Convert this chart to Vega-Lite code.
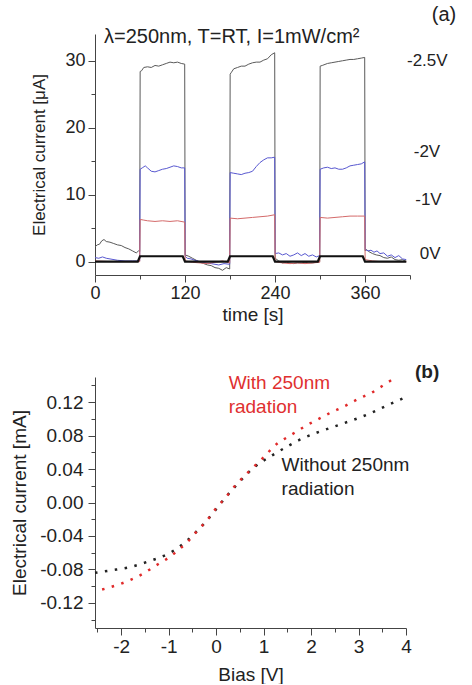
{
  "$schema": "https://vega.github.io/schema/vega-lite/v6.json",
  "padding": {"left": 10, "top": 5, "right": 0, "bottom": 0},
  "spacing": 38,
  "resolve": {"scale": {"color": "independent"}},
  "config": {
    "font": "Liberation Sans",
    "view": {"stroke": null},
    "axis": {
      "domainColor": "#444", "tickColor": "#444", "labelColor": "#222", "titleColor": "#222",
      "titleFontWeight": "normal", "grid": false, "labelFont": "Liberation Sans", "titleFont": "Liberation Sans",
      "labelOverlap": false, "labelFlush": false
    }
  },
  "datasets": {
    "ts": [
      {"t":0,"i":2.2,"s":"-2.5V"},{"t":3,"i":2.5,"s":"-2.5V"},{"t":6,"i":2.6,"s":"-2.5V"},{"t":9,"i":3.1,"s":"-2.5V"},{"t":12,"i":3.3,"s":"-2.5V"},{"t":15,"i":3.0,"s":"-2.5V"},{"t":20,"i":2.9,"s":"-2.5V"},{"t":25,"i":2.7,"s":"-2.5V"},{"t":30,"i":2.5,"s":"-2.5V"},{"t":35,"i":2.4,"s":"-2.5V"},{"t":40,"i":2.1,"s":"-2.5V"},{"t":45,"i":1.9,"s":"-2.5V"},{"t":50,"i":1.6,"s":"-2.5V"},{"t":55,"i":1.3,"s":"-2.5V"},{"t":58,"i":1.6,"s":"-2.5V"},{"t":59.6,"i":1.5,"s":"-2.5V"},
      {"t":60.2,"i":28.4,"s":"-2.5V"},{"t":62,"i":28.5,"s":"-2.5V"},{"t":65,"i":29.0,"s":"-2.5V"},{"t":70,"i":29.1,"s":"-2.5V"},{"t":75,"i":29.0,"s":"-2.5V"},{"t":80,"i":29.3,"s":"-2.5V"},{"t":85,"i":29.2,"s":"-2.5V"},{"t":90,"i":29.4,"s":"-2.5V"},{"t":95,"i":29.6,"s":"-2.5V"},{"t":100,"i":29.8,"s":"-2.5V"},{"t":105,"i":29.7,"s":"-2.5V"},{"t":110,"i":29.8,"s":"-2.5V"},{"t":115,"i":29.6,"s":"-2.5V"},{"t":119.6,"i":29.5,"s":"-2.5V"},
      {"t":120.2,"i":1.0,"s":"-2.5V"},{"t":125,"i":0.8,"s":"-2.5V"},{"t":130,"i":0.5,"s":"-2.5V"},{"t":135,"i":0.2,"s":"-2.5V"},{"t":140,"i":-0.1,"s":"-2.5V"},{"t":145,"i":-0.3,"s":"-2.5V"},{"t":150,"i":-0.5,"s":"-2.5V"},{"t":155,"i":-0.6,"s":"-2.5V"},{"t":160,"i":-0.9,"s":"-2.5V"},{"t":165,"i":-1.0,"s":"-2.5V"},{"t":170,"i":-1.3,"s":"-2.5V"},{"t":175,"i":-0.9,"s":"-2.5V"},{"t":179.6,"i":-1.1,"s":"-2.5V"},
      {"t":180.2,"i":28.0,"s":"-2.5V"},{"t":182,"i":28.3,"s":"-2.5V"},{"t":185,"i":28.8,"s":"-2.5V"},{"t":190,"i":29.0,"s":"-2.5V"},{"t":195,"i":29.2,"s":"-2.5V"},{"t":200,"i":29.2,"s":"-2.5V"},{"t":205,"i":29.5,"s":"-2.5V"},{"t":210,"i":29.7,"s":"-2.5V"},{"t":215,"i":29.8,"s":"-2.5V"},{"t":220,"i":29.8,"s":"-2.5V"},{"t":225,"i":30.1,"s":"-2.5V"},{"t":230,"i":30.3,"s":"-2.5V"},{"t":235,"i":30.9,"s":"-2.5V"},{"t":239.6,"i":31.2,"s":"-2.5V"},
      {"t":240.2,"i":0.5,"s":"-2.5V"},{"t":245,"i":0.1,"s":"-2.5V"},{"t":250,"i":-0.2,"s":"-2.5V"},{"t":255,"i":-0.1,"s":"-2.5V"},{"t":260,"i":-0.2,"s":"-2.5V"},{"t":265,"i":-0.3,"s":"-2.5V"},{"t":270,"i":-0.2,"s":"-2.5V"},{"t":275,"i":-0.2,"s":"-2.5V"},{"t":280,"i":-0.1,"s":"-2.5V"},{"t":285,"i":-0.2,"s":"-2.5V"},{"t":290,"i":-0.2,"s":"-2.5V"},{"t":295,"i":-0.1,"s":"-2.5V"},{"t":299.6,"i":0.0,"s":"-2.5V"},
      {"t":300.2,"i":29.2,"s":"-2.5V"},{"t":303,"i":29.3,"s":"-2.5V"},{"t":310,"i":29.6,"s":"-2.5V"},{"t":315,"i":29.7,"s":"-2.5V"},{"t":320,"i":29.8,"s":"-2.5V"},{"t":325,"i":29.9,"s":"-2.5V"},{"t":330,"i":30.0,"s":"-2.5V"},{"t":335,"i":30.1,"s":"-2.5V"},{"t":340,"i":30.2,"s":"-2.5V"},{"t":345,"i":30.2,"s":"-2.5V"},{"t":350,"i":30.3,"s":"-2.5V"},{"t":355,"i":30.4,"s":"-2.5V"},{"t":359.6,"i":30.5,"s":"-2.5V"},
      {"t":360.2,"i":1.6,"s":"-2.5V"},{"t":362,"i":1.8,"s":"-2.5V"},{"t":365,"i":1.5,"s":"-2.5V"},{"t":370,"i":1.2,"s":"-2.5V"},{"t":375,"i":1.0,"s":"-2.5V"},{"t":380,"i":0.9,"s":"-2.5V"},{"t":385,"i":0.6,"s":"-2.5V"},{"t":390,"i":0.5,"s":"-2.5V"},{"t":395,"i":0.7,"s":"-2.5V"},{"t":400,"i":0.3,"s":"-2.5V"},{"t":405,"i":0.2,"s":"-2.5V"},{"t":410,"i":0.3,"s":"-2.5V"},{"t":415,"i":0.0,"s":"-2.5V"},

      {"t":0,"i":0.6,"s":"-2V"},{"t":5,"i":0.5,"s":"-2V"},{"t":10,"i":0.7,"s":"-2V"},{"t":15,"i":0.5,"s":"-2V"},{"t":20,"i":0.4,"s":"-2V"},{"t":30,"i":0.2,"s":"-2V"},{"t":40,"i":0.1,"s":"-2V"},{"t":50,"i":0.1,"s":"-2V"},{"t":59.6,"i":0.1,"s":"-2V"},
      {"t":60.2,"i":13.8,"s":"-2V"},{"t":63,"i":14.0,"s":"-2V"},{"t":67,"i":14.3,"s":"-2V"},{"t":70,"i":14.0,"s":"-2V"},{"t":75,"i":13.5,"s":"-2V"},{"t":80,"i":13.4,"s":"-2V"},{"t":85,"i":13.6,"s":"-2V"},{"t":90,"i":13.8,"s":"-2V"},{"t":95,"i":13.9,"s":"-2V"},{"t":100,"i":14.1,"s":"-2V"},{"t":105,"i":14.3,"s":"-2V"},{"t":110,"i":14.2,"s":"-2V"},{"t":115,"i":14.0,"s":"-2V"},{"t":119.6,"i":14.0,"s":"-2V"},
      {"t":120.2,"i":0.8,"s":"-2V"},{"t":123,"i":0.5,"s":"-2V"},{"t":128,"i":0.4,"s":"-2V"},{"t":133,"i":0.2,"s":"-2V"},{"t":140,"i":0.0,"s":"-2V"},{"t":148,"i":-0.2,"s":"-2V"},{"t":155,"i":-0.3,"s":"-2V"},{"t":165,"i":-0.5,"s":"-2V"},{"t":172,"i":-0.3,"s":"-2V"},{"t":179.6,"i":-0.4,"s":"-2V"},
      {"t":180.2,"i":13.3,"s":"-2V"},{"t":185,"i":13.2,"s":"-2V"},{"t":190,"i":13.1,"s":"-2V"},{"t":195,"i":13.0,"s":"-2V"},{"t":200,"i":13.2,"s":"-2V"},{"t":205,"i":13.3,"s":"-2V"},{"t":210,"i":13.5,"s":"-2V"},{"t":215,"i":14.2,"s":"-2V"},{"t":220,"i":14.8,"s":"-2V"},{"t":225,"i":15.2,"s":"-2V"},{"t":230,"i":15.5,"s":"-2V"},{"t":235,"i":15.5,"s":"-2V"},{"t":239.6,"i":15.6,"s":"-2V"},
      {"t":240.2,"i":1.2,"s":"-2V"},{"t":245,"i":1.3,"s":"-2V"},{"t":250,"i":1.0,"s":"-2V"},{"t":255,"i":1.2,"s":"-2V"},{"t":260,"i":0.8,"s":"-2V"},{"t":265,"i":1.0,"s":"-2V"},{"t":270,"i":1.3,"s":"-2V"},{"t":275,"i":0.9,"s":"-2V"},{"t":280,"i":1.2,"s":"-2V"},{"t":285,"i":0.8,"s":"-2V"},{"t":290,"i":1.0,"s":"-2V"},{"t":295,"i":0.7,"s":"-2V"},{"t":299.6,"i":0.9,"s":"-2V"},
      {"t":300.2,"i":13.8,"s":"-2V"},{"t":305,"i":14.0,"s":"-2V"},{"t":310,"i":14.1,"s":"-2V"},{"t":315,"i":13.9,"s":"-2V"},{"t":320,"i":14.0,"s":"-2V"},{"t":325,"i":13.8,"s":"-2V"},{"t":330,"i":13.8,"s":"-2V"},{"t":335,"i":14.0,"s":"-2V"},{"t":340,"i":14.3,"s":"-2V"},{"t":345,"i":14.4,"s":"-2V"},{"t":350,"i":14.5,"s":"-2V"},{"t":355,"i":14.6,"s":"-2V"},{"t":359.6,"i":14.9,"s":"-2V"},
      {"t":360.2,"i":1.8,"s":"-2V"},{"t":364,"i":1.6,"s":"-2V"},{"t":368,"i":1.7,"s":"-2V"},{"t":372,"i":1.4,"s":"-2V"},{"t":376,"i":1.6,"s":"-2V"},{"t":380,"i":1.2,"s":"-2V"},{"t":385,"i":1.3,"s":"-2V"},{"t":390,"i":0.8,"s":"-2V"},{"t":395,"i":1.0,"s":"-2V"},{"t":400,"i":0.6,"s":"-2V"},{"t":405,"i":0.9,"s":"-2V"},{"t":410,"i":0.4,"s":"-2V"},{"t":415,"i":0.3,"s":"-2V"},

      {"t":0,"i":0.1,"s":"-1V"},{"t":20,"i":0.0,"s":"-1V"},{"t":40,"i":0.0,"s":"-1V"},{"t":59.6,"i":0.0,"s":"-1V"},
      {"t":60.2,"i":6.3,"s":"-1V"},{"t":65,"i":6.2,"s":"-1V"},{"t":70,"i":6.1,"s":"-1V"},{"t":80,"i":6.0,"s":"-1V"},{"t":90,"i":6.1,"s":"-1V"},{"t":100,"i":6.0,"s":"-1V"},{"t":110,"i":6.1,"s":"-1V"},{"t":119.6,"i":5.9,"s":"-1V"},
      {"t":120.2,"i":0.1,"s":"-1V"},{"t":130,"i":-0.1,"s":"-1V"},{"t":140,"i":-0.2,"s":"-1V"},{"t":150,"i":-0.3,"s":"-1V"},{"t":160,"i":-0.1,"s":"-1V"},{"t":170,"i":0.1,"s":"-1V"},{"t":179.6,"i":-0.2,"s":"-1V"},
      {"t":180.2,"i":6.5,"s":"-1V"},{"t":190,"i":6.4,"s":"-1V"},{"t":200,"i":6.5,"s":"-1V"},{"t":210,"i":6.6,"s":"-1V"},{"t":220,"i":6.7,"s":"-1V"},{"t":230,"i":6.8,"s":"-1V"},{"t":239.6,"i":7.0,"s":"-1V"},
      {"t":240.2,"i":0.0,"s":"-1V"},{"t":250,"i":-0.2,"s":"-1V"},{"t":260,"i":-0.3,"s":"-1V"},{"t":270,"i":-0.2,"s":"-1V"},{"t":280,"i":-0.3,"s":"-1V"},{"t":290,"i":-0.2,"s":"-1V"},{"t":299.6,"i":-0.1,"s":"-1V"},
      {"t":300.2,"i":6.6,"s":"-1V"},{"t":310,"i":6.5,"s":"-1V"},{"t":320,"i":6.6,"s":"-1V"},{"t":330,"i":6.7,"s":"-1V"},{"t":340,"i":6.8,"s":"-1V"},{"t":350,"i":6.8,"s":"-1V"},{"t":359.6,"i":6.8,"s":"-1V"},
      {"t":360.2,"i":0.3,"s":"-1V"},{"t":370,"i":0.1,"s":"-1V"},{"t":380,"i":0.0,"s":"-1V"},{"t":400,"i":0.0,"s":"-1V"},{"t":415,"i":0.0,"s":"-1V"},

      {"t":0,"i":0.0,"s":"0V"},{"t":57,"i":0.0,"s":"0V"},{"t":60,"i":0.8,"s":"0V"},{"t":117,"i":0.8,"s":"0V"},{"t":120,"i":0.0,"s":"0V"},{"t":177,"i":0.0,"s":"0V"},{"t":180,"i":0.8,"s":"0V"},{"t":237,"i":0.8,"s":"0V"},{"t":240,"i":0.0,"s":"0V"},{"t":297,"i":0.0,"s":"0V"},{"t":300,"i":0.8,"s":"0V"},{"t":357,"i":0.8,"s":"0V"},{"t":360,"i":0.0,"s":"0V"},{"t":415,"i":0.0,"s":"0V"}
    ],
    "iv": [
      {"v":-2.55,"i":-0.084,"s":"without"},{"v":-2.2,"i":-0.081,"s":"without"},{"v":-1.8,"i":-0.077,"s":"without"},{"v":-1.4,"i":-0.070,"s":"without"},{"v":-1.2,"i":-0.066,"s":"without"},{"v":-1.0,"i":-0.061,"s":"without"},{"v":-0.8,"i":-0.054,"s":"without"},{"v":-0.6,"i":-0.045,"s":"without"},{"v":-0.4,"i":-0.034,"s":"without"},{"v":-0.2,"i":-0.022,"s":"without"},{"v":0,"i":-0.008,"s":"without"},{"v":0.2,"i":0.006,"s":"without"},{"v":0.4,"i":0.019,"s":"without"},{"v":0.6,"i":0.031,"s":"without"},{"v":0.8,"i":0.042,"s":"without"},{"v":1.0,"i":0.050,"s":"without"},{"v":1.2,"i":0.057,"s":"without"},{"v":1.5,"i":0.067,"s":"without"},{"v":1.8,"i":0.076,"s":"without"},{"v":2.1,"i":0.083,"s":"without"},{"v":2.4,"i":0.089,"s":"without"},{"v":2.7,"i":0.095,"s":"without"},{"v":3.0,"i":0.101,"s":"without"},{"v":3.3,"i":0.108,"s":"without"},{"v":3.6,"i":0.116,"s":"without"},{"v":4.0,"i":0.126,"s":"without"},
      {"v":-2.4,"i":-0.104,"s":"with"},{"v":-2.0,"i":-0.097,"s":"with"},{"v":-1.6,"i":-0.087,"s":"with"},{"v":-1.2,"i":-0.073,"s":"with"},{"v":-1.0,"i":-0.066,"s":"with"},{"v":-0.8,"i":-0.057,"s":"with"},{"v":-0.6,"i":-0.047,"s":"with"},{"v":-0.4,"i":-0.034,"s":"with"},{"v":-0.2,"i":-0.022,"s":"with"},{"v":0,"i":-0.007,"s":"with"},{"v":0.2,"i":0.006,"s":"with"},{"v":0.4,"i":0.020,"s":"with"},{"v":0.6,"i":0.032,"s":"with"},{"v":0.8,"i":0.043,"s":"with"},{"v":1.0,"i":0.054,"s":"with"},{"v":1.1,"i":0.060,"s":"with"},{"v":1.3,"i":0.071,"s":"with"},{"v":1.5,"i":0.078,"s":"with"},{"v":1.7,"i":0.085,"s":"with"},{"v":1.9,"i":0.092,"s":"with"},{"v":2.1,"i":0.098,"s":"with"},{"v":2.4,"i":0.107,"s":"with"},{"v":2.7,"i":0.115,"s":"with"},{"v":3.0,"i":0.124,"s":"with"},{"v":3.3,"i":0.132,"s":"with"},{"v":3.6,"i":0.143,"s":"with"},{"v":3.8,"i":0.150,"s":"with"}
    ]
  },
  "vconcat": [
    {
      "width": 315, "height": 241,
      "layer": [
        {
          "data": {"name": "ts"},
          "transform": [{"filter": "datum.s != '0V'"}],
          "mark": {"type": "line", "strokeWidth": 1},
          "encoding": {
            "x": {"field": "t", "type": "quantitative", "scale": {"domain": [0, 420]},
              "axis": {"title": "time [s]", "values": [0, 60, 120, 180, 240, 300, 360, 420],
                "labelExpr": "datum.value % 120 == 0 && datum.value < 400 ? datum.label : ''",
                "tickSize": {"condition": {"test": "datum.value % 120 != 0", "value": 4}, "value": 7},
                "labelFontSize": 18, "titleFontSize": 19, "labelPadding": 2, "titlePadding": 3}},
            "y": {"field": "i", "type": "quantitative", "scale": {"domain": [-2, 34]},
              "axis": {"title": "Electrical current [μA]", "values": [0, 5, 10, 15, 20, 25, 30],
                "labelExpr": "datum.value % 10 == 0 ? datum.label : ''",
                "tickSize": {"condition": {"test": "datum.value % 10 != 0", "value": 4}, "value": 7},
                "labelFontSize": 18, "titleFontSize": 17, "labelPadding": 3, "titlePadding": 16}},
            "color": {"field": "s", "type": "nominal", "scale": {"domain": ["-2.5V", "-2V", "-1V"], "range": ["#5a5a5a", "#5858d0", "#d46a6a"]}, "legend": null}
          }
        },
        {
          "data": {"name": "ts"},
          "transform": [{"filter": "datum.s == '0V'"}],
          "mark": {"type": "line", "strokeWidth": 2.2, "color": "#111"},
          "encoding": {
            "x": {"field": "t", "type": "quantitative", "scale": {"domain": [0, 420]}},
            "y": {"field": "i", "type": "quantitative", "scale": {"domain": [-2, 34]}}
          }
        },
        {
          "data": {"values": [{"t": 12, "i": 33.6, "label": "λ=250nm, T=RT, I=1mW/cm²"}, {"t": 449, "i": 36.8, "label": "(a)"}]},
          "mark": {"type": "text", "align": "left", "baseline": "middle", "fontSize": 20, "color": "#222"},
          "encoding": {
            "x": {"field": "t", "type": "quantitative", "scale": {"domain": [0, 420]}},
            "y": {"field": "i", "type": "quantitative", "scale": {"domain": [-2, 34]}},
            "text": {"field": "label"}
          }
        },
        {
          "data": {"values": [{"t": 416, "i": 29.9, "label": "-2.5V"}, {"t": 425, "i": 16.3, "label": "-2V"}, {"t": 427, "i": 9.2, "label": "-1V"}, {"t": 433, "i": 1.2, "label": "0V"}]},
          "mark": {"type": "text", "align": "left", "baseline": "middle", "fontSize": 17, "color": "#222"},
          "encoding": {
            "x": {"field": "t", "type": "quantitative", "scale": {"domain": [0, 420]}},
            "y": {"field": "i", "type": "quantitative", "scale": {"domain": [-2, 34]}},
            "text": {"field": "label"}
          }
        }
      ]
    },
    {
      "width": 311, "height": 251,
      "resolve": {"axis": {"x": "independent", "y": "independent"}},
      "layer": [
        {
          "data": {"name": "iv"},
          "mark": {"type": "line", "strokeWidth": 2.5, "strokeDash": [2.5, 7.5], "interpolate": "monotone"},
          "encoding": {
            "x": {"field": "v", "type": "quantitative", "scale": {"domain": [-2.55, 4]},
              "axis": {"orient": "bottom", "title": "Bias [V]", "values": [-2, -1, 0, 1, 2, 3, 4],
                "format": "d", "labelExpr": "replace(datum.label, '−', '-')", "tickSize": 7,
                "labelFontSize": 19, "titleFontSize": 19, "labelPadding": 2, "titlePadding": 9}},
            "y": {"field": "i", "type": "quantitative", "scale": {"domain": [-0.15, 0.15]},
              "axis": {"orient": "left", "title": "Electrical current [mA]", "values": [-0.12, -0.08, -0.04, 0, 0.04, 0.08, 0.12],
                "format": ".2f", "labelExpr": "replace(datum.label, '−', '-')", "tickSize": 7,
                "labelFontSize": 19, "titleFontSize": 19, "labelPadding": 5, "titlePadding": 10}},
            "color": {"field": "s", "type": "nominal", "scale": {"domain": ["without", "with"], "range": ["#222222", "#e02a2a"]}, "legend": null}
          }
        },
        {
          "data": {"name": "iv"},
          "mark": {"type": "line", "opacity": 0},
          "encoding": {
            "x": {"field": "v", "type": "quantitative", "scale": {"domain": [-2.55, 4]},
              "axis": {"orient": "bottom", "title": null, "values": [-2.5, -1.5, -0.5, 0.5, 1.5, 2.5, 3.5], "labels": false, "domain": false, "tickSize": 4}},
            "y": {"field": "i", "type": "quantitative", "scale": {"domain": [-0.15, 0.15]},
              "axis": {"orient": "left", "title": null, "values": [-0.14, -0.1, -0.06, -0.02, 0.02, 0.06, 0.1, 0.14], "labels": false, "domain": false, "tickSize": 4}},
            "detail": {"field": "s"}
          }
        },
        {
          "data": {"values": [{"v": 0.265, "i": 0.143, "label": "With 250nm"}, {"v": 0.265, "i": 0.114, "label": "radation"}]},
          "mark": {"type": "text", "align": "left", "baseline": "middle", "fontSize": 19, "color": "#e03030"},
          "encoding": {
            "x": {"field": "v", "type": "quantitative", "scale": {"domain": [-2.55, 4]}, "axis": null},
            "y": {"field": "i", "type": "quantitative", "scale": {"domain": [-0.15, 0.15]}, "axis": null},
            "text": {"field": "label"}
          }
        },
        {
          "data": {"values": [{"v": 1.38, "i": 0.0444, "label": "Without 250nm"}, {"v": 1.38, "i": 0.0156, "label": "radiation"}]},
          "mark": {"type": "text", "align": "left", "baseline": "middle", "fontSize": 19, "color": "#222"},
          "encoding": {
            "x": {"field": "v", "type": "quantitative", "scale": {"domain": [-2.55, 4]}, "axis": null},
            "y": {"field": "i", "type": "quantitative", "scale": {"domain": [-0.15, 0.15]}, "axis": null},
            "text": {"field": "label"}
          }
        },
        {
          "data": {"values": [{"v": 4.19, "i": 0.156, "label": "(b)"}]},
          "mark": {"type": "text", "align": "left", "baseline": "middle", "fontSize": 19, "fontWeight": "bold", "color": "#222"},
          "encoding": {
            "x": {"field": "v", "type": "quantitative", "scale": {"domain": [-2.55, 4]}, "axis": null},
            "y": {"field": "i", "type": "quantitative", "scale": {"domain": [-0.15, 0.15]}, "axis": null},
            "text": {"field": "label"}
          }
        }
      ]
    }
  ]
}
